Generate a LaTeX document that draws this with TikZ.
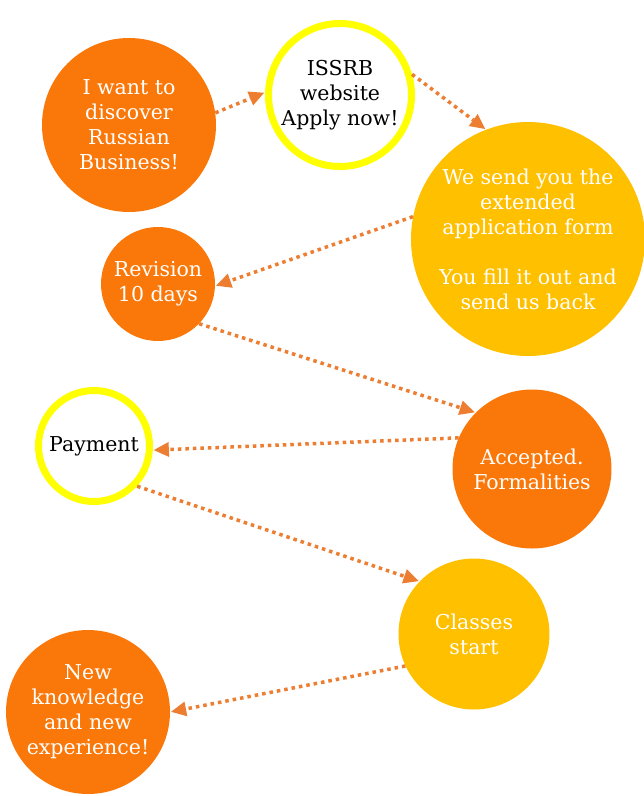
\documentclass[tikz,border=0pt]{standalone}
\usepackage{fontspec}
\setmainfont{DejaVu Serif}
\usetikzlibrary{arrows.meta}

\definecolor{bizorange}{HTML}{FA780A}
\definecolor{bizgold}{HTML}{FFC000}
\definecolor{bizyellow}{HTML}{FFFF00}
\definecolor{bizarrow}{HTML}{ED7D31}

\tikzset{
  fullstep/.style={circle, fill=#1, text=white, align=center, inner sep=0pt,
    font=\fontsize{20.5}{25}\selectfont},
  ringstep/.style={circle, draw=bizyellow, line width=7pt, fill=white,
    text=black, align=center, inner sep=0pt, font=\fontsize{20.5}{25}\selectfont},
  goon/.style={draw=bizarrow, line width=3.5pt, dash pattern=on 3.5pt off 4pt,
    -{Triangle[length=15pt,width=15pt,line width=0pt]}, shorten >=1pt}
}

\begin{document}
\begin{tikzpicture}[x=1pt,y=-1pt]

  \useasboundingbox (0,0) rectangle (644,796);

  \node[fullstep=bizorange, minimum size=174pt] (want) at (129,125)
    {I want to\\discover\\Russian\\Business!};
  \node[ringstep, minimum size=143pt] (site) at (340,95)
    {ISSRB\\website\\Apply now!};
  \node[fullstep=bizgold, minimum size=234pt] (form) at (528,239)
    {We send you the\\extended\\application form\\[25pt]You fill it out and\\send us back};
  \node[fullstep=bizorange, minimum size=114pt] (revision) at (158,284)
    {Revision\\10 days};
  \node[fullstep=bizorange, minimum size=159pt] (accepted) at (532,469)
    {Accepted.\\Formalities};
  \node[ringstep, minimum size=111pt] (payment) at (94,446) {Payment};
  \node[fullstep=bizgold, minimum size=151pt] (classes) at (474,634)
    {Classes\\start};
  \node[fullstep=bizorange, minimum size=164pt] (result) at (88,712)
    {New\\knowledge\\and new\\experience!};

  \draw[goon] (want.8) -- (site.178);
  \draw[goon] (site.16) -- (form.111);
  \draw[goon] (form.169) -- (revision.-2);
  \draw[goon] (revision.-44) -- (accepted.135);
  \draw[goon] (accepted.157) -- (payment.-4);
  \draw[goon] (payment.-43) -- (classes.136);
  \draw[goon] (classes.205) -- (result.0);

\end{tikzpicture}
\end{document}
